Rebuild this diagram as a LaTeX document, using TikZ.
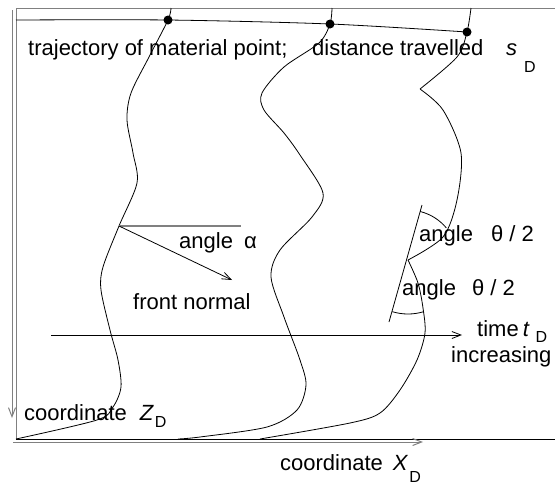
\documentclass[tikz,border=0pt]{standalone}
\usepackage{fontspec}
\setmainfont{Liberation Sans}
\usetikzlibrary{arrows.meta}
\definecolor{FrameGray}{RGB}{128,128,128}
\newcommand{\subD}[1]{\raisebox{-#1}{\fontsize{16}{16}\selectfont D}}
\tikzset{
  pt/.style={circle,fill=black,inner sep=0pt,minimum size=9pt},
  curve/.style={draw=black,line width=0.8pt},
  frame/.style={draw=FrameGray,line width=1pt},
  barb/.style={-{Straight Barb[length=9pt,width=7pt]}},
  lbl/.style={inner sep=0pt,anchor=base west,font=\fontsize{22}{26}\selectfont},
}

\begin{document}
\begin{tikzpicture}[x=1pt,y=-1pt]
\useasboundingbox (0,0) rectangle (555,485);
\foreach \x/\y/\n in {16/8/b0,555/8/b1,16/439/b2,555/439/b3,12/10/z0,12/418/z1,13/442/x0,423/442/x1,
  51/335/t0,462/335/t1,119/226/n0,232/280/n1,241/226/h1,422/205/g0,389/322/g1,408/260/k,16/20/f0,
  168/20/d1,330/24/d2,467/32/d3,420/89/c3}
  \coordinate (\n) at (\x,\y);
% box and axes
\draw[frame] (b1) -- (b0) -- (b2);
\draw[curve] (b2) -- (b3);
\draw[frame,barb] (z0) -- (z1);
\draw[frame,barb] (x0) -- (x1);
% front
\draw[curve] plot[smooth] coordinates {(f0) (d1) (d2) (d3)};
% trajectories
\draw[curve] plot[smooth] coordinates {(171,8) (d1) (149,57) (131,93) (127,120) (133,153) (137,183)
  (n0) (103,267) (101,290) (110,330) (118,360) (121,387) (113,407) (97,420) (b2)};
\draw[curve] plot[smooth] coordinates {(332,8) (d2) (319,43) (284,67) (262,93) (264,110) (284,133)
  (300,155) (323,193) (312,217) (280,250) (271,277) (284,317) (300,360) (306,385) (297,410)
  (267,427) (200,437) (178,439)};
\draw[curve] plot[smooth] coordinates {(471,8) (d3) (457,57) (c3)};
\draw[curve] plot[smooth] coordinates {(c3) (443,110) (461,153) (457,200) (443,237) (k)};
\draw[curve] plot[smooth] coordinates {(k) (418,283) (423,308) (425,333) (417,360) (400,390)
  (380,413) (350,423) (260,439)};
% angles
\draw[draw=FrameGray,line width=1.2pt] (n0) -- (h1);
\draw[curve,barb] (n0) -- (n1);
\draw[curve] (g0) -- (g1);
\draw[curve] (k) ++(76:50pt) arc[start angle=76,end angle=40,radius=50pt];
\draw[curve] (k) ++(253:54pt) arc[start angle=253,end angle=287,radius=54pt];
\draw[curve,barb] (t0) -- (t1);
\foreach \n in {d1,d2,d3} \node[pt] (\n dot) at (\n) {};
% labels
\node[lbl] (trajlbl) at (28,55) {trajectory of material point;};
\node[lbl] (distlbl) at (312,55) {distance travelled};
\node[lbl] (slbl) at (506,55) {\textit{s}\hspace{7pt}\subD{17pt}};
\node[lbl] (alphalbl) at (179,248) {angle\hspace{11pt}α};
\node[lbl] (normallbl) at (133,309) {front normal};
\node[lbl] (thetaA) at (419,241) {angle\hspace{18pt}θ / 2};
\node[lbl] (thetaB) at (402,295) {angle\hspace{16pt}θ / 2};
\node[lbl] (timelbl) at (477,336) {time\hspace{4pt}\textit{t}\hspace{6pt}\subD{6pt}};
\node[lbl] (incrlbl) at (451,362) {increasing};
\node[lbl] (zlbl) at (24,420) {coordinate\hspace{13pt}\textit{Z}\hspace{1pt}\subD{7pt}};
\node[lbl] (xlbl) at (280,470) {coordinate\hspace{10pt}\textit{X}\hspace{1pt}\subD{12pt}};
\end{tikzpicture}
\end{document}
